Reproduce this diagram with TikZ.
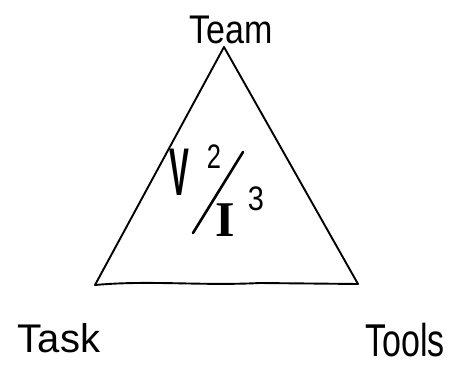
\documentclass[tikz,border=0pt]{standalone}
\usepackage{fontspec}
\setmainfont{Liberation Sans}
\newfontfamily\serifI{Liberation Serif}
\begin{document}
\begin{tikzpicture}[x=1pt,y=-1pt,
  hand/.style={line width=1.9pt,line join=round,line cap=round,black},
  lbl/.style={inner sep=0pt,anchor=base,font=\fontsize{40}{40}\selectfont}]
\useasboundingbox (0,0) rectangle (459,370);
\fill[white] (0,0) rectangle (459,370);
% triangle corners
\coordinate (top) at (224,47);
\coordinate (left) at (95,285);
\coordinate (right) at (358,284);
\draw[hand] (top) -- (left) .. controls (150,280) and (200,286) .. (260,283) -- (right) -- cycle;
% labels
\node[lbl,xscale=0.85] (team) at (231,43) {Team};
\node[lbl] (task) at (59,352) {Task};
\node[lbl,xscale=0.85,yscale=1.15] (tools) at (405,356) {Tools};
% formula
\node[inner sep=0pt,font=\bfseries\fontsize{54}{54}\selectfont,xscale=0.55,yscale=1.25] (v) at (179,172) {V};
\node[inner sep=0pt,font=\fontsize{34}{34}\selectfont,xscale=0.75] (two) at (214,157) {2};
\node[inner sep=0pt,font=\serifI\bfseries\fontsize{50}{50}\selectfont] (i) at (225,220) {I};
\node[inner sep=0pt,font=\fontsize{34}{34}\selectfont,xscale=0.85] (three) at (256,199) {3};
\coordinate (s1) at (243,152);
\coordinate (s2) at (193,233);
\draw[line width=2.6pt,line cap=round] (s1) -- (s2);
\end{tikzpicture}
\end{document}
